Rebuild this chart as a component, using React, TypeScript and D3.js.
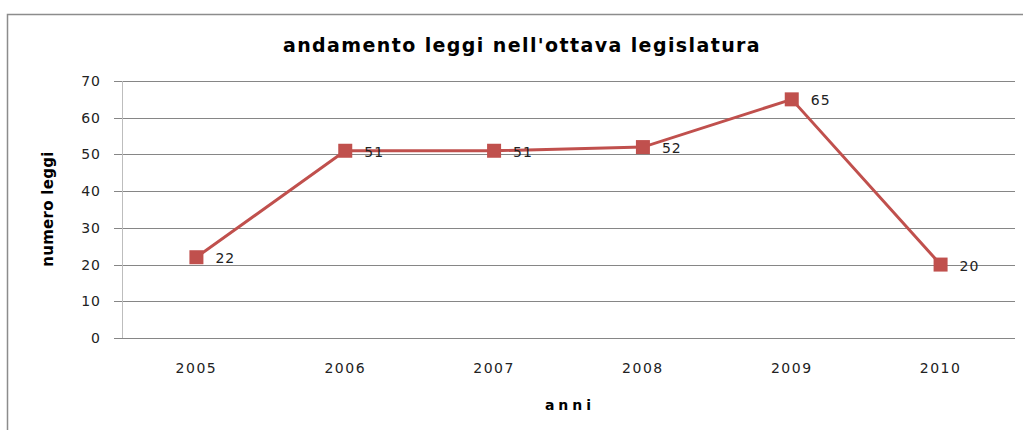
import React, { useEffect, useRef } from 'react';
import * as d3 from 'd3';

const years = ['2005', '2006', '2007', '2008', '2009', '2010'];
const leggi = [22, 51, 51, 52, 65, 20];
const yTicks = [0, 10, 20, 30, 40, 50, 60, 70];

const App = () => {
  const ref = useRef<SVGSVGElement>(null);

  useEffect(() => {
    const width = 1023;
    const height = 430;
    const margin = { top: 81, right: 8, bottom: 92, left: 122 };
    const font = "'DejaVu Sans', 'Open Sans', sans-serif";
    const color = '#C0504D';

    const svg = d3.select(ref.current).attr('width', width).attr('height', height);
    svg.selectAll('*').remove();

    // chart border
    svg
      .append('rect')
      .attr('x', 7.5)
      .attr('y', 14.5)
      .attr('width', width + 10)
      .attr('height', height + 10)
      .attr('fill', 'white')
      .attr('stroke', '#8c8c8c')
      .attr('stroke-width', 1.5);

    const x = d3
      .scaleBand()
      .domain(years)
      .range([margin.left, width - margin.right]);

    const y = d3
      .scaleLinear()
      .domain([0, 70])
      .range([height - margin.bottom, margin.top]);

    // gridlines
    svg
      .append('g')
      .selectAll('line')
      .data(yTicks)
      .enter()
      .append('line')
      .attr('x1', margin.left - 8)
      .attr('x2', width - margin.right)
      .attr('y1', (d) => Math.round(y(d)) + 0.5)
      .attr('y2', (d) => Math.round(y(d)) + 0.5)
      .attr('stroke', '#868686')
      .attr('stroke-width', 1);

    // vertical axis line
    svg
      .append('line')
      .attr('x1', margin.left + 0.5)
      .attr('x2', margin.left + 0.5)
      .attr('y1', y(70))
      .attr('y2', y(0))
      .attr('stroke', '#bdbdbd');

    // y tick labels
    svg
      .append('g')
      .selectAll('text')
      .data(yTicks)
      .enter()
      .append('text')
      .attr('x', 101)
      .attr('y', (d) => y(d) + 5)
      .attr('text-anchor', 'end')
      .style('font-family', font)
      .style('font-size', '14px')
      .style('letter-spacing', '1px')
      .style('fill', '#222')
      .text((d) => d);

    // x tick labels
    svg
      .append('g')
      .selectAll('text')
      .data(years)
      .enter()
      .append('text')
      .attr('x', (d) => x(d)! + x.bandwidth() / 2)
      .attr('y', 373)
      .attr('text-anchor', 'middle')
      .style('font-family', font)
      .style('font-size', '14px')
      .style('letter-spacing', '1.5px')
      .style('fill', '#222')
      .text((d) => d);

    // title
    svg
      .append('text')
      .attr('x', 522)
      .attr('y', 52)
      .attr('text-anchor', 'middle')
      .style('font-family', font)
      .style('font-size', '19px')
      .style('font-weight', 'bold')
      .style('letter-spacing', '1.4px')
      .text("andamento leggi nell'ottava legislatura");

    // axis titles
    svg
      .append('text')
      .attr('x', 570)
      .attr('y', 410)
      .attr('text-anchor', 'middle')
      .style('font-family', font)
      .style('font-size', '14px')
      .style('font-weight', 'bold')
      .style('letter-spacing', '4px')
      .text('anni');

    svg
      .append('text')
      .attr('transform', 'translate(53, 209) rotate(-90)')
      .attr('text-anchor', 'middle')
      .style('font-family', font)
      .style('font-size', '15px')
      .style('font-weight', 'bold')
      .style('letter-spacing', '0.3px')
      .text('numero leggi');

    const cx = (i: number) => x(years[i])! + x.bandwidth() / 2;

    // line
    const line = d3
      .line<number>()
      .x((_, i) => cx(i))
      .y((d) => y(d))
      .curve(d3.curveLinear);

    svg
      .append('path')
      .datum(leggi)
      .attr('d', line)
      .attr('fill', 'none')
      .attr('stroke', color)
      .attr('stroke-width', 3);

    // markers
    const s = 14;
    svg
      .append('g')
      .selectAll('rect')
      .data(leggi)
      .enter()
      .append('rect')
      .attr('x', (_, i) => cx(i) - s / 2)
      .attr('y', (d) => y(d) - s / 2)
      .attr('width', s)
      .attr('height', s)
      .attr('fill', color);

    // data labels
    svg
      .append('g')
      .selectAll('text')
      .data(leggi)
      .enter()
      .append('text')
      .attr('x', (_, i) => cx(i) + 19)
      .attr('y', (d) => y(d) + 6)
      .style('font-family', font)
      .style('font-size', '14px')
      .style('letter-spacing', '1px')
      .style('fill', '#222')
      .text((d) => d);
  }, []);

  return (
    <svg
      ref={ref}
      style={{ position: 'absolute', left: 0, top: 0, display: 'block' }}
    ></svg>
  );
};

export default App;
